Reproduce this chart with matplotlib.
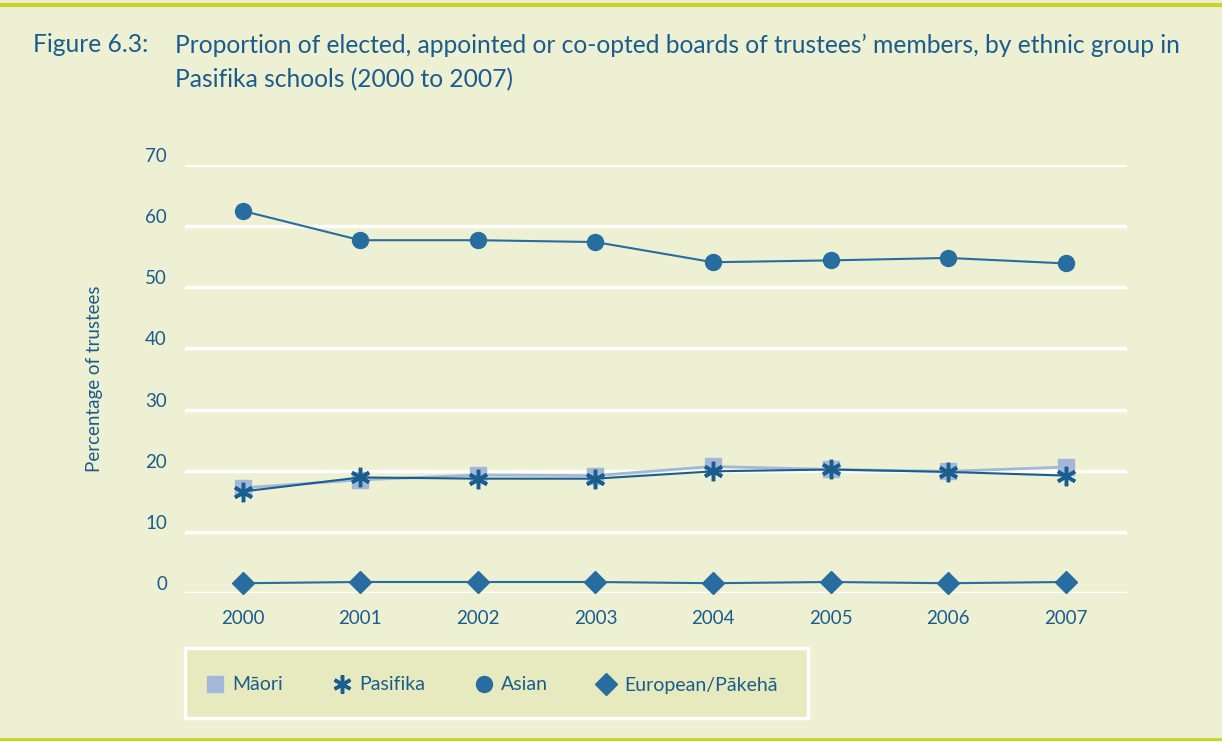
import matplotlib.pyplot as plt
from matplotlib.patches import Rectangle
from matplotlib.lines import Line2D

years = ["2000", "2001", "2002", "2003", "2004", "2005", "2006", "2007"]
maori = [17.2, 18.5, 19.3, 19.2, 20.7, 20.2, 19.9, 20.6]
pasifika = [16.6, 18.9, 18.7, 18.7, 19.9, 20.2, 19.8, 19.2]
asian = [62.5, 57.7, 57.7, 57.4, 54.1, 54.4, 54.8, 53.9]
european = [1.6, 1.8, 1.8, 1.8, 1.6, 1.8, 1.6, 1.8]
yticks = [0, 10, 20, 30, 40, 50, 60, 70]

bg = "#EDF0D2"
txt = "#1B5C8C"
dark = "#276DA0"
light = "#A3B7D8"

plt.rcParams["font.family"] = ["Lato", "DejaVu Sans"]

fig = plt.figure(figsize=(12.22, 7.42), dpi=100, facecolor=bg)

# top / bottom rules
fig.add_artist(Line2D([0, 1], [1 - 5 / 742, 1 - 5 / 742], color="#C9D32B", lw=3))
fig.add_artist(Line2D([0, 1], [1 - 739 / 742, 1 - 739 / 742], color="#C9D32B", lw=2))

fig.text(33 / 1222, 1 - 45 / 742, "Figure 6.3:", color=txt, fontsize=17.7, va="center")
fig.text(175 / 1222, 1 - 45 / 742,
         "Proportion of elected, appointed or co-opted boards of trustees\u2019 members, by ethnic group in",
         color=txt, fontsize=17.7, va="center")
fig.text(175 / 1222, 1 - 80 / 742, "Pasifika schools (2000 to 2007)",
         color=txt, fontsize=17.7, va="center")

ax = fig.add_axes([185 / 1222, 1 - 593 / 742, (1127 - 185) / 1222, (593 - 165) / 742])
ax.set_facecolor(bg)
x = list(range(len(years)))

ax.plot(x, maori, color=light, lw=2, marker="s", ms=12, mfc=light, mec=light, clip_on=False, zorder=3)
ax.plot(x, pasifika, color="#1A5E90", lw=1.5, marker=(6, 2, 0), ms=14, mew=2.5,
        mec="#1A5E90", clip_on=False, zorder=4)
ax.plot(x, asian, color=dark, lw=1.5, marker="o", ms=11.5, mfc=dark, mec=dark, clip_on=False, zorder=3)
ax.plot(x, european, color=dark, lw=1.5, marker="D", ms=11, mfc=dark, mec=dark, clip_on=False, zorder=3)

ax.set_xlim(-0.49, 7.52)
ax.set_ylim(0, 70)
ax.set_yticks(yticks)
ax.set_xticks(x)
ax.set_xticklabels(years)
ax.grid(axis="y", color="white", lw=2.5)
ax.set_axisbelow(True)
for s in ax.spines.values():
    s.set_visible(False)
ax.tick_params(length=0, colors=txt, labelsize=13.5)
ax.tick_params(axis="y", pad=13)
ax.tick_params(axis="x", pad=12)
for lab in ax.get_yticklabels():
    lab.set_verticalalignment("bottom")
ax.set_ylabel("Percentage of trustees", color=txt, fontsize=13.5, labelpad=30)

# legend box
fig.add_artist(Rectangle((185 / 1222, 1 - 718 / 742), (808 - 185) / 1222, 70 / 742,
                         transform=fig.transFigure, facecolor="#E7EABF", edgecolor="white", lw=2.5))
handles = [
    Line2D([], [], ls="none", marker="s", ms=12, mfc=light, mec=light),
    Line2D([], [], ls="none", marker=(6, 2, 0), ms=13, mew=2.5, mec="#1A5E90"),
    Line2D([], [], ls="none", marker="o", ms=11.5, mfc=dark, mec=dark),
    Line2D([], [], ls="none", marker="D", ms=11, mfc=dark, mec=dark),
]
leg = fig.legend(handles, ["M\u0101ori", "Pasifika", "Asian", "European/P\u0101keh\u0101"],
                 loc="center left", bbox_to_anchor=(188 / 1222, 1 - 685 / 742), ncol=4,
                 frameon=False, fontsize=14, handletextpad=0.4, columnspacing=2.5,
                 handlelength=1.0)
for t in leg.get_texts():
    t.set_color(txt)

fig.savefig("out.png", dpi=100, facecolor=bg)
